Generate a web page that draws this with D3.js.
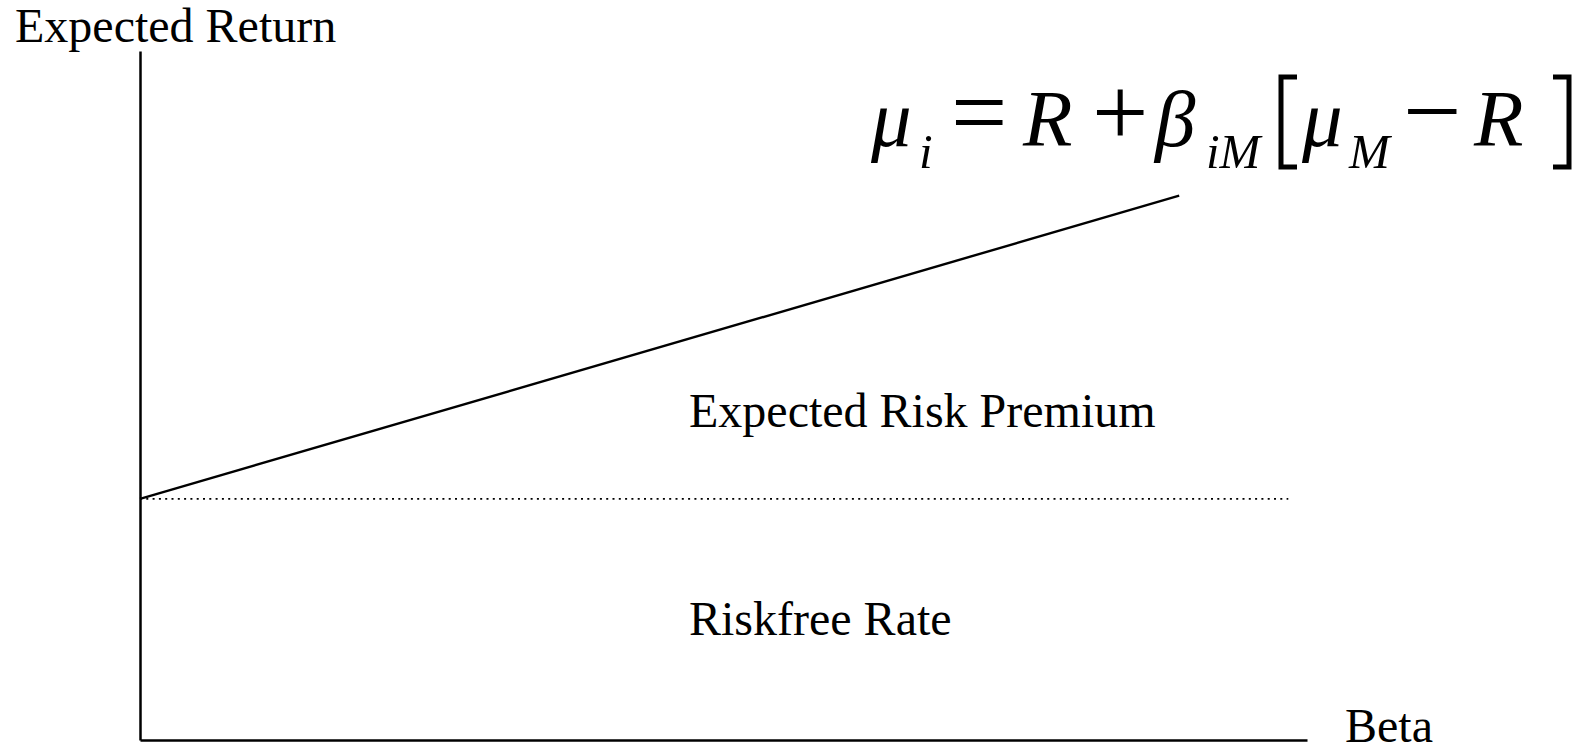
<!DOCTYPE html>
<html>
<head>
<meta charset="utf-8">
<script src="https://cdn.jsdelivr.net/npm/d3@7"></script>
<style>
  html, body { margin: 0; padding: 0; background: #fff; }
  svg { display: block; }
</style>
</head>
<body>
<svg id="chart" width="1591" height="753" font-family="Liberation Serif, Times New Roman, serif"></svg>
<script>
// Security market line: expected return as a function of beta
const betaDomain = [0, 2.246];          // horizontal axis extent (beta)
const returnDomain = [0, 10];           // vertical axis extent (expected return)
const smlBeta = [0, 2.0];               // beta values along the SML
const smlReturn = [3.5, 7.9];           // expected return at those betas
const riskfreeRate = 3.5;               // intercept of the SML
const riskfreeLineEnd = 2.21;           // beta where the dotted riskfree line stops

const axisLabels = { y: "Expected Return", x: "Beta" };
const regionLabels = ["Expected Risk Premium", "Riskfree Rate"];

const FONT = "Liberation Serif";
const svg = d3.select("#chart");

const x = d3.scaleLinear().domain(betaDomain).range([140, 1307]);
const y = d3.scaleLinear().domain(returnDomain).range([740, 51]);

// Axes without ticks: only the axis lines
const axisStyle = g => g.select(".domain").attr("stroke", "#000").attr("stroke-width", 2.5);
svg.append("g")
  .attr("transform", `translate(0,${y(0)})`)
  .call(d3.axisBottom(x).tickValues([]).tickSizeOuter(0))
  .call(axisStyle);
svg.append("g")
  .attr("transform", `translate(${x(0)},0)`)
  .call(d3.axisLeft(y).tickValues([]).tickSizeOuter(0))
  .call(axisStyle);

// Dotted riskfree level
svg.append("line")
  .attr("x1", x(0)).attr("x2", x(riskfreeLineEnd))
  .attr("y1", y(riskfreeRate)).attr("y2", y(riskfreeRate))
  .attr("stroke", "#000")
  .attr("stroke-width", 1.8)
  .attr("stroke-dasharray", "2 4.3");

// Security market line
const sml = smlBeta.map((b, i) => [b, smlReturn[i]]);
svg.append("path")
  .datum(sml)
  .attr("fill", "none")
  .attr("stroke", "#000")
  .attr("stroke-width", 2.4)
  .attr("d", d3.line().x(d => x(d[0])).y(d => y(d[1])));

const label = (tx, ty, str) => svg.append("text")
  .attr("x", tx).attr("y", ty)
  .attr("font-family", FONT).attr("font-size", 48).attr("fill", "#000")
  .text(str);

// Axis titles
label(15, 42, axisLabels.y);
label(1345, 742, axisLabels.x);

// Region labels
label(689, 427, regionLabels[0]);
label(689, 635, regionLabels[1]);

// CAPM equation: mu_i = R + beta_iM [mu_M - R]
// Variables in italic, operators upright and larger.
const eq = svg.append("g");
const base = 146, sub = 168;
const glyphs = [
  { t: "\u03bc", x: 871, y: base, it: true, fs: 81 },
  { t: "i", x: 919, y: sub, it: true, fs: 49 },
  { t: "=", x: 951, y: base, fs: 100 },
  { t: "R", x: 1023, y: base, it: true, fs: 81 },
  { t: "+", x: 1092, y: base, fs: 100 },
  { t: "\u03b2", x: 1155, y: base, it: true, fs: 81 },
  { t: "iM", x: 1206, y: sub, it: true, fs: 49 },
  { t: "\u03bc", x: 1302, y: base, it: true, fs: 81 },
  { t: "M", x: 1349, y: sub, it: true, fs: 49 },
  { t: "\u2212", x: 1403, y: base, fs: 104 },
  { t: "R", x: 1474, y: base, it: true, fs: 81 }
];
glyphs.forEach(g => {
  eq.append("text")
    .attr("x", g.x).attr("y", g.y)
    .attr("font-family", FONT)
    .attr("font-style", g.it ? "italic" : "normal")
    .attr("font-size", g.fs)
    .attr("fill", "#000")
    .text(g.t);
});
// Tall square brackets
const bracket = (x0, dir) => {
  const top = 77, bot = 167, w = 16 * dir;
  eq.append("path")
    .attr("d", `M${x0 + w},${top} L${x0},${top} L${x0},${bot} L${x0 + w},${bot}`)
    .attr("fill", "none").attr("stroke", "#000").attr("stroke-width", 5);
};
bracket(1281, 1);
bracket(1569, -1);
</script>
</body>
</html>
